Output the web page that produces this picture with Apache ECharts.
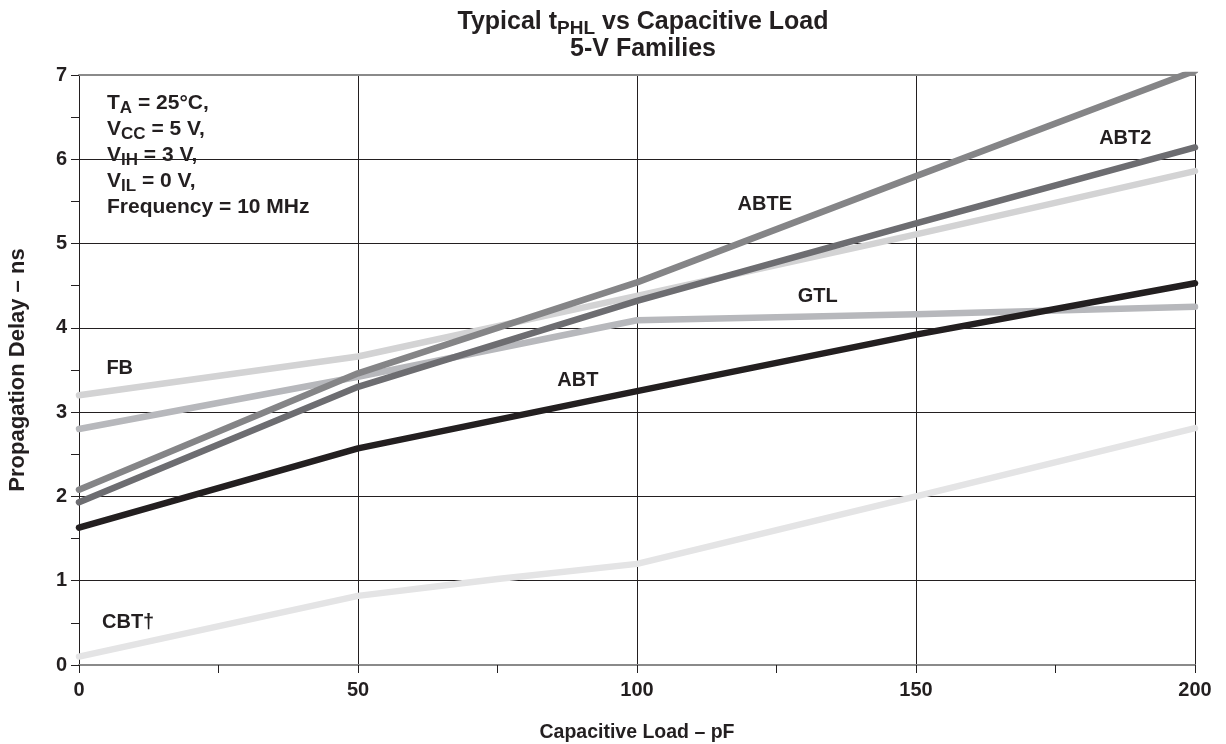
<!DOCTYPE html>
<html>
<head>
<meta charset="utf-8">
<script src="https://cdn.jsdelivr.net/npm/echarts@6/dist/echarts.min.js"></script>
<style>
html,body{margin:0;padding:0;background:#fff;}
#c{width:1226px;height:744px;}
</style>
</head>
<body>
<div id="c"></div>
<script>
// Capacitive load (pF)
var loads = [0, 50, 100, 150, 200];
// Propagation delay (ns) per family
var abte = [2.08, 3.46, 4.54, 5.80, 7.05];
var abt2 = [1.93, 3.30, 4.32, 5.24, 6.14];
var fb   = [3.20, 3.66, 4.38, 5.11, 5.86];
var gtl  = [2.80, 3.42, 4.09, 4.16, 4.25];
var abt  = [1.63, 2.57, 3.25, 3.92, 4.53];
var cbtLoads = [0, 50, 75, 100, 150, 200];
var cbt  = [0.10, 0.82, 1.02, 1.20, 2.00, 2.81];
// Series label names and anchor positions (data coords)
var labelNames = ['ABTE', 'ABT2', 'GTL', 'FB', 'ABT', 'CBT†'];
var labelX = [122.9, 187.5, 132.4, 7.3, 89.4, 8.8];
var labelY = [5.46, 6.25, 4.37, 3.52, 3.38, 0.51];
// Axis ticks
var xTicks = [0, 50, 100, 150, 200];
var yTicks = [0, 1, 2, 3, 4, 5, 6, 7];

function pairs(xs, ys) { return xs.map(function (x, i) { return [x, ys[i]]; }); }

var FONT = '"Liberation Sans", Arial, Helvetica, sans-serif';
var TXT = '#231f20';

function lineSeries(name, xs, ys, color) {
  return {
    name: name, type: 'line', data: pairs(xs, ys), symbol: 'none', clip: true,
    lineStyle: { color: color, width: 6.5, cap: 'round', join: 'round' },
    emphasis: { disabled: true }, z: 3
  };
}

var chart = echarts.init(document.getElementById('c'), null, { renderer: 'canvas' });
var option = {
  animation: false,
  backgroundColor: '#ffffff',
  textStyle: { fontFamily: FONT },
  title: {
    left: 638, top: 4, textAlign: 'center',
    text: '{b|Typical t}{s|PHL}{b| vs Capacitive Load}\n{b|5-V Families}',
    textStyle: {
      rich: {
        b: { fontFamily: FONT, fontWeight: 'bold', fontSize: 25, color: TXT, lineHeight: 27 },
        s: { fontFamily: FONT, fontWeight: 'bold', fontSize: 19, color: TXT, lineHeight: 27, padding: [12, 0, 0, 0] }
      }
    }
  },
  grid: { left: 79, right: 31, top: 75, bottom: 79, containLabel: false, outerBoundsMode: 'none' },
  xAxis: [{
    type: 'value', min: 0, max: 200, interval: 50,
    name: 'Capacitive Load – pF', nameLocation: 'middle', nameGap: 58,
    nameTextStyle: { fontFamily: FONT, fontWeight: 'bold', fontSize: 19.5, color: TXT },
    axisLine: { show: true, onZero: false, lineStyle: { color: '#8a8a8a', width: 2 } },
    axisTick: { show: true, length: 8, lineStyle: { color: TXT, width: 1 } },
    minorTick: { show: true, splitNumber: 2, length: 8, lineStyle: { color: TXT, width: 1 } },
    axisLabel: { fontFamily: FONT, fontWeight: 'bold', fontSize: 20, color: TXT, margin: 15,
      formatter: function (v) { return xTicks.indexOf(v) >= 0 ? String(v) : ''; } },
    splitLine: { show: true, lineStyle: { color: TXT, width: 1 } }
  }, {
    type: 'value', min: 0, max: 200, position: 'top',
    axisLine: { show: true, onZero: false, lineStyle: { color: '#8a8a8a', width: 2 } },
    axisTick: { show: false }, axisLabel: { show: false }, splitLine: { show: false }
  }],
  yAxis: {
    type: 'value', min: 0, max: 7, interval: 1,
    name: 'Propagation Delay – ns', nameLocation: 'middle', nameGap: 50,
    nameTextStyle: { fontFamily: FONT, fontWeight: 'bold', fontSize: 22, color: TXT },
    axisLine: { show: true, onZero: false, lineStyle: { color: TXT, width: 1 } },
    axisTick: { show: true, length: 8, lineStyle: { color: TXT, width: 1 } },
    minorTick: { show: true, splitNumber: 2, length: 8, lineStyle: { color: TXT, width: 1 } },
    axisLabel: { fontFamily: FONT, fontWeight: 'bold', fontSize: 20, color: TXT, margin: 12,
      formatter: function (v) { return yTicks.indexOf(v) >= 0 ? String(v) : ''; } },
    splitLine: { show: true, lineStyle: { color: TXT, width: 1 } }
  },
  graphic: [{
    type: 'group', left: 99, top: 80, z: 10,
    children: [
      { type: 'rect', shape: { x: 0, y: 0, width: 227, height: 152 }, style: { fill: '#ffffff' } },
      { type: 'text', x: 8, y: 10, style: {
          text: '{m|T}{s|A}{m| = 25°C,}\n{m|V}{s|CC}{m| = 5 V,}\n{m|V}{s|IH}{m| = 3 V,}\n{m|V}{s|IL}{m| = 0 V,}\n{m|Frequency = 10 MHz}',
          rich: {
            m: { fontFamily: FONT, fontWeight: 'bold', fontSize: 21, fill: TXT, lineHeight: 26 },
            s: { fontFamily: FONT, fontWeight: 'bold', fontSize: 17, fill: TXT, lineHeight: 26, padding: [10, 0, 0, 0] }
          }
      } }
    ]
  }],
  series: [
    lineSeries('CBT', cbtLoads, cbt, '#e4e4e5'),
    lineSeries('GTL', loads, gtl, '#b7b8bc'),
    lineSeries('FB', loads, fb, '#d3d3d4'),
    lineSeries('ABT2', loads, abt2, '#6d6d71'),
    lineSeries('ABTE', loads, abte, '#858587'),
    lineSeries('ABT', loads, abt, '#231f20'),
    {
      type: 'scatter', symbolSize: 0, silent: true, z: 5,
      itemStyle: { opacity: 1 },
      data: labelNames.map(function (n, i) { return { value: [labelX[i], labelY[i]], name: n }; }),
      label: { show: true, position: 'inside', formatter: function (p) { return p.name; },
        fontFamily: FONT, fontWeight: 'bold', fontSize: 20, color: TXT, opacity: 1 }
    }
  ]
};
chart.setOption(option);
</script>
</body>
</html>
